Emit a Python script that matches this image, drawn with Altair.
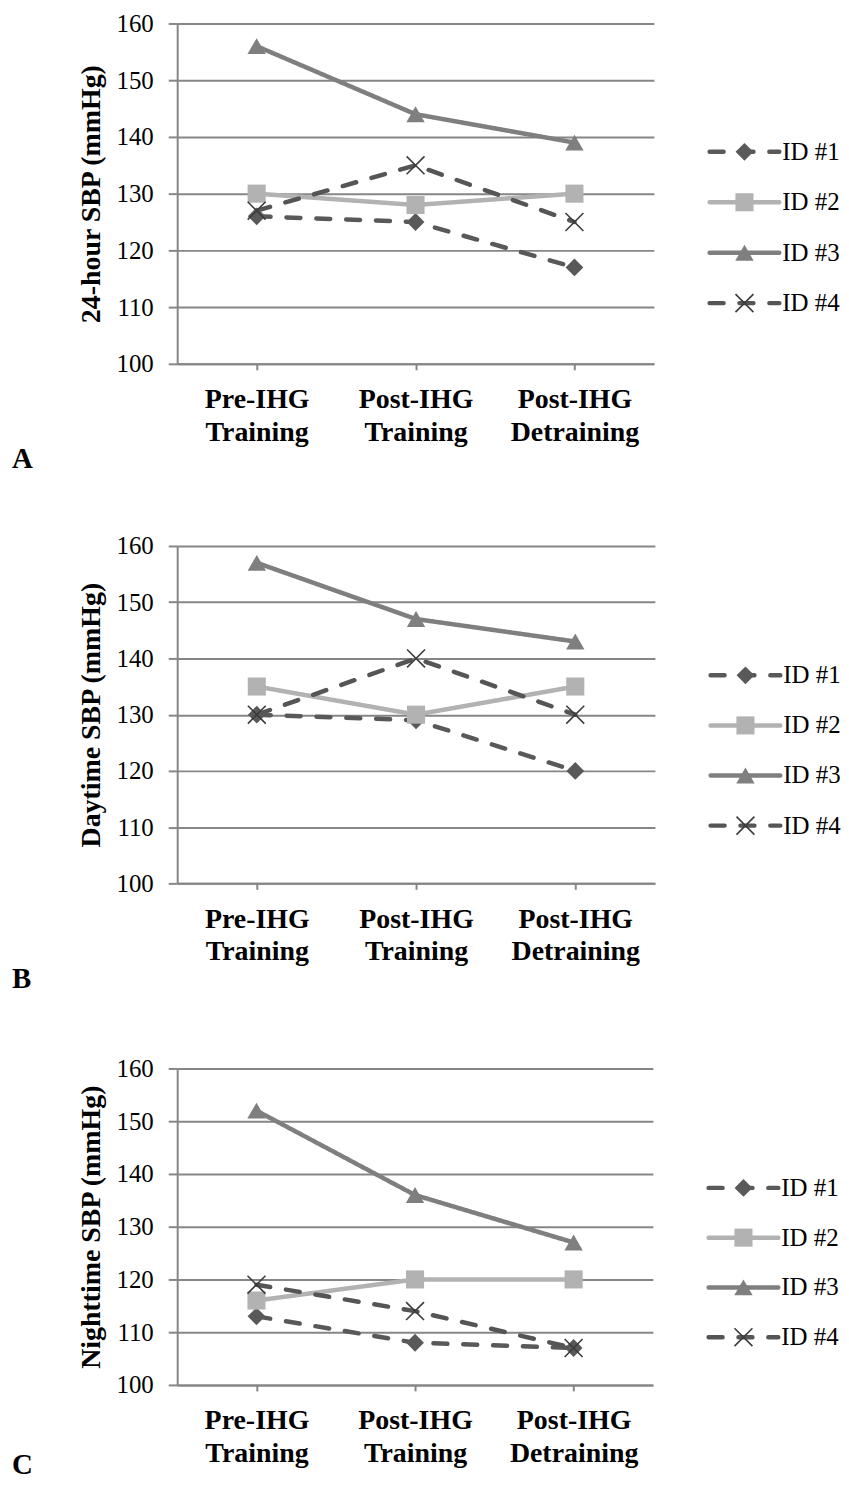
import altair as alt
import pandas as pd

# ---------------- data ----------------
categories = ["Pre-IHG Training", "Post-IHG Training", "Post-IHG Detraining"]
ids = ["ID #1", "ID #2", "ID #3", "ID #4"]

# Panel A: 24-hour SBP (mmHg)
a_id1 = [126, 125, 117]
a_id2 = [130, 128, 130]
a_id3 = [156, 144, 139]
a_id4 = [127, 135, 125]

# Panel B: Daytime SBP (mmHg)
b_id1 = [130, 129, 120]
b_id2 = [135, 130, 135]
b_id3 = [157, 147, 143]
b_id4 = [130, 140, 130]

# Panel C: Nighttime SBP (mmHg)
c_id1 = [113, 108, 107]
c_id2 = [116, 120, 120]
c_id3 = [152, 136, 127]
c_id4 = [119, 114, 107]

y_titles = ["24-hour SBP (mmHg)", "Daytime SBP (mmHg)", "Nighttime SBP (mmHg)"]
panel_letters = ["A", "B", "C"]
y_ticks = [100, 110, 120, 130, 140, 150, 160]
y_domain = [100, 160]

# ---------------- styles ----------------
FONT = "Liberation Serif"
GRID = "#868686"
line_colors = ["#595959", "#b2b2b2", "#7f7f7f", "#555555"]
dashes = [[14, 16], [1, 0], [1, 0], [14, 16]]
marker_shapes = ["diamond", "square", "triangle-up"]
marker_sizes = [320, 340, 400]
X_PATH = "M-1,-1L1,1M-1,1L1,-1"
X_COLOR = "#3c3c3c"
LW = 4.5


def long_df(series):
    rows = []
    for sid, vals in zip(ids, series):
        for cat, v in zip(categories, vals):
            rows.append({"id": sid, "cat": cat, "sbp": v})
    return pd.DataFrame(rows)


def legend_df():
    rows = []
    for sid in ids:
        for lx in (0.0, 0.5, 1.0):
            rows.append({"id": sid, "lx": lx})
    return pd.DataFrame(rows)


color_enc = alt.Color("id:N", scale=alt.Scale(domain=ids, range=line_colors), legend=None)
dash_enc = alt.StrokeDash("id:N", scale=alt.Scale(domain=ids, range=dashes), legend=None)
shape_enc = alt.Shape("id:N", scale=alt.Scale(domain=ids[:3], range=marker_shapes), legend=None)
size_enc = alt.Size("id:N", scale=alt.Scale(domain=ids[:3], range=marker_sizes), legend=None)


def make_row(series, ytitle, letter, width, height, t_off, leg_range, leg_height):
    df = long_df(series)
    x = alt.X(
        "cat:N",
        sort=categories,
        scale=alt.Scale(type="point", padding=0.5, domain=categories),
        axis=alt.Axis(
            title=None, labelExpr="split(datum.label, ' ')", labelAngle=0,
            labelFont=FONT, labelFontSize=28, labelFontWeight="bold", labelColor="black",
            labelLineHeight=33, labelPadding=16, tickSize=6, tickWidth=2, tickColor=GRID,
            domainColor=GRID, domainWidth=2, grid=False,
        ),
    )
    y = alt.Y(
        "sbp:Q",
        scale=alt.Scale(domain=y_domain, nice=False, zero=False),
        axis=alt.Axis(
            values=y_ticks, title=ytitle, titleFont=FONT, titleFontSize=28,
            titleFontWeight="bold", titleColor="black", titlePadding=11,
            labelFont=FONT, labelFontSize=25, labelColor="black", labelPadding=15,
            tickSize=9, tickWidth=2, tickColor=GRID, domainColor=GRID, domainWidth=2,
            grid=True, gridColor=GRID, gridWidth=2,
        ),
    )
    base = alt.Chart(df)
    lines = base.mark_line(strokeWidth=LW, strokeCap="round").encode(
        x=x, y=y, color=color_enc, strokeDash=dash_enc, detail="id:N"
    )
    pts = base.transform_filter(alt.datum.id != "ID #4").mark_point(
        filled=True, opacity=1
    ).encode(x=x, y=y, color=color_enc, shape=shape_enc, size=size_enc)
    xs = base.transform_filter(alt.datum.id == "ID #4").mark_point(
        filled=False, opacity=1, shape=X_PATH, size=324, strokeWidth=1.6, color=X_COLOR
    ).encode(x=x, y=y)
    panel = alt.layer(lines, pts, xs).properties(
        width=width, height=height,
        title=alt.TitleParams(
            letter, orient="bottom", anchor="start", frame="group", dx=-166, offset=t_off,
            baseline="alphabetic",
            font=FONT, fontSize=29, fontWeight="bold", color="black",
        ),
    )

    ldf = legend_df()
    lbase = alt.Chart(ldf)
    lx = alt.X("lx:Q", scale=alt.Scale(domain=[0, 1]), axis=None)
    ly = alt.Y("id:N", scale=alt.Scale(type="point", domain=ids, range=leg_range, padding=0),
               axis=None)
    l_lines = lbase.transform_filter(alt.datum.lx != 0.5).mark_line(
        strokeWidth=LW, strokeCap="round"
    ).encode(x=lx, y=ly, color=color_enc, strokeDash=dash_enc, detail="id:N")
    l_pts = lbase.transform_filter(
        (alt.datum.lx == 0.5) & (alt.datum.id != "ID #4")
    ).mark_point(filled=True, opacity=1).encode(
        x=lx, y=ly, color=color_enc, shape=shape_enc, size=size_enc
    )
    l_xs = lbase.transform_filter(
        (alt.datum.lx == 0.5) & (alt.datum.id == "ID #4")
    ).mark_point(
        filled=False, opacity=1, shape=X_PATH, size=324, strokeWidth=1.6, color=X_COLOR
    ).encode(x=lx, y=ly)
    l_txt = lbase.transform_filter(alt.datum.lx == 1.0).mark_text(
        align="left", baseline="middle", dx=3, font=FONT, fontSize=25, color="black"
    ).encode(x=lx, y=ly, text="id:N")
    legend = alt.layer(l_lines, l_pts, l_xs, l_txt).properties(width=70, height=leg_height)

    return alt.hconcat(panel, legend, spacing=47).resolve_scale(
        x="independent", y="independent"
    )


row_a = make_row([a_id1, a_id2, a_id3, a_id4], y_titles[0], panel_letters[0],
                 479, 342, 22, [129, 281], 493)
row_b = make_row([b_id1, b_id2, b_id3, b_id4], y_titles[1], panel_letters[1],
                 480, 339, 22, [130, 281], 493)
row_c = make_row([c_id1, c_id2, c_id3, c_id4], y_titles[2], panel_letters[2],
                 478, 318, 6, [120, 270], 318)

chart = alt.vconcat(row_a, row_b, row_c, spacing=20).configure_view(
    stroke=None
).properties(padding={"left": 4, "top": 0, "right": 0, "bottom": 0})

chart.save("out.html", embed_options={"renderer": "svg", "actions": False})
